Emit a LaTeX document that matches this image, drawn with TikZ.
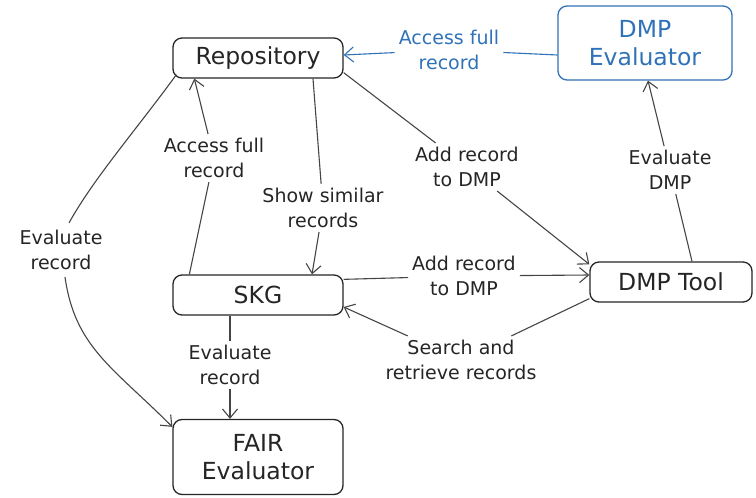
\documentclass[tikz,border=0pt]{standalone}
\usepackage{fontspec}
\setmainfont{DejaVu Sans}
\usetikzlibrary{arrows.meta,calc}
\definecolor{ink}{HTML}{252525}
\definecolor{wire}{HTML}{454545}
\definecolor{exblue}{HTML}{2F72B8}
\begin{document}
\begin{tikzpicture}[x=1pt,y=-1pt,
  box/.style={draw=ink, line width=1.3pt, rounded corners=9pt, minimum height=40pt,
    font=\fontsize{23.5}{28}\selectfont, text=ink, align=center, inner sep=0pt},
  lbl/.style={font=\fontsize{19}{25}\selectfont, text=ink, align=center, inner sep=4pt},
  con/.style={draw=wire, line width=1.1pt},
  arr/.style={con, -{Straight Barb[length=9pt,width=15pt,line width=1.1pt]}}
]
\useasboundingbox (0,0) rectangle (756,498);
% boxes
\node[box, minimum width=170pt] (repo) at (258,58) {Repository};
\node[box, minimum width=174pt, minimum height=74pt, draw=exblue, text=exblue] (dmpe) at (645,43) {DMP\\Evaluator};
\node[box, minimum width=170pt] (skg) at (258,295) {SKG};
\node[box, minimum width=170pt, minimum height=75pt] (fair) at (258,457) {FAIR\\Evaluator};
\node[box, minimum width=162pt] (tool) at (671,282) {DMP Tool};
% labels
\node[lbl, text=exblue] (l1) at (449,50) {Access full\\record};
\node[lbl] (l2) at (214,158) {Access full\\record};
\node[lbl] (l3) at (323,208) {Show similar\\records};
\node[lbl] (l4) at (467,167) {Add record\\to DMP};
\node[lbl] (l5) at (464,276) {Add record\\to DMP};
\node[lbl] (l6) at (461,360) {Search and\\retrieve records};
\node[lbl] (l7) at (670,170) {Evaluate\\DMP};
\node[lbl] (l8) at (61,250) {Evaluate\\record};
\node[lbl] (l9) at (230,365) {Evaluate\\record};
% connectors
\draw[arr, draw=exblue] ([yshift=-12pt]dmpe.west) -- (l1) -- ([yshift=3pt]repo.east);
\draw[arr] ([xshift=17pt]skg.north west) -- (l2) -- ([xshift=22pt]repo.south west);
\draw[arr] ([xshift=55pt]repo.south) -- (l3) -- ([xshift=54pt]skg.north);
\draw[arr] ([yshift=6pt]repo.south east) -- (l4) -- ([yshift=-3pt]tool.north west);
\draw[arr] ([yshift=-5pt]skg.north east) -- (l5) -- ([yshift=7pt]tool.west);
\draw[arr] ([yshift=4pt]tool.south west) -- (l6) -- ([yshift=-12pt]skg.east);
\draw[arr] ([xshift=21pt]tool.north) -- (l7) -- ([xshift=3pt]dmpe.south);
\draw[con] ([xshift=4pt,yshift=4pt]repo.south west) .. controls +(-40,55) and +(25,-45) .. ([shift={(8,-3)}]l8.north);
\draw[arr] ([shift={(4,3)}]l8.south) .. controls +(10,70) and +(-60,-60) .. ([yshift=-8pt]fair.north west);
\draw[arr] ([xshift=-28pt]skg.south) -- (l9) -- ([xshift=-28pt]fair.north);
\end{tikzpicture}
\end{document}
